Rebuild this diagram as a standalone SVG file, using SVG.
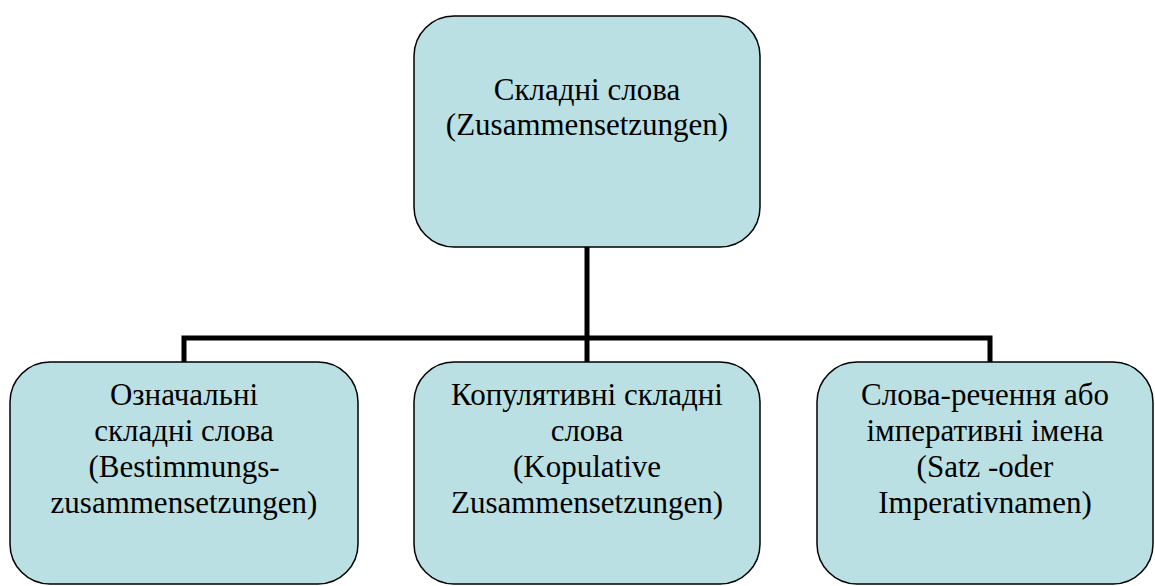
<svg xmlns="http://www.w3.org/2000/svg" width="1155" height="586" viewBox="0 0 1155 586">
<style>
.box{fill:#BAE0E3;stroke:#000;stroke-width:1.5}
.c{fill:none;stroke:#000;stroke-width:5}
</style>
<rect width="1155" height="586" fill="#fff"/>
<g id="connectors">
<path class="c" d="M587 247 V338"/>
<path class="c" d="M184 362 V338 H990 V362"/>
<path class="c" d="M587 338 V362"/>
</g>
<g id="root">
<rect class="box" x="414" y="16" width="346" height="231" rx="40"/>
<text x="587" y="100" font-family="Liberation Serif" font-size="31" text-anchor="middle" style="font-family:'Liberation Serif',serif;font-size:31px">Складні слова</text>
<text x="587" y="135" font-family="Liberation Serif" font-size="31" text-anchor="middle" style="font-family:'Liberation Serif',serif;font-size:31px">(Zusammensetzungen)</text>
</g>
<g id="n1">
<rect class="box" x="10" y="362" width="348" height="222" rx="40"/>
<text x="184" y="405" font-family="Liberation Serif" font-size="31" text-anchor="middle" style="font-family:'Liberation Serif',serif;font-size:31px">Означальні</text>
<text x="184" y="441" font-family="Liberation Serif" font-size="31" text-anchor="middle" style="font-family:'Liberation Serif',serif;font-size:31px">складні слова</text>
<text x="184" y="477" font-family="Liberation Serif" font-size="31" text-anchor="middle" style="font-family:'Liberation Serif',serif;font-size:31px">(Bestimmungs-</text>
<text x="184" y="513" font-family="Liberation Serif" font-size="31" text-anchor="middle" style="font-family:'Liberation Serif',serif;font-size:31px">zusammensetzungen)</text>
</g>
<g id="n2">
<rect class="box" x="414" y="362" width="346" height="222" rx="40"/>
<text x="587" y="405" font-family="Liberation Serif" font-size="31" text-anchor="middle" style="font-family:'Liberation Serif',serif;font-size:31px">Копулятивні складні</text>
<text x="587" y="441" font-family="Liberation Serif" font-size="31" text-anchor="middle" style="font-family:'Liberation Serif',serif;font-size:31px">слова</text>
<text x="587" y="477" font-family="Liberation Serif" font-size="31" text-anchor="middle" style="font-family:'Liberation Serif',serif;font-size:31px">(Kopulative</text>
<text x="587" y="513" font-family="Liberation Serif" font-size="31" text-anchor="middle" style="font-family:'Liberation Serif',serif;font-size:31px">Zusammensetzungen)</text>
</g>
<g id="n3">
<rect class="box" x="817" y="362" width="336" height="222" rx="40"/>
<text x="985" y="405" font-family="Liberation Serif" font-size="31" text-anchor="middle" style="font-family:'Liberation Serif',serif;font-size:31px">Слова-речення або</text>
<text x="985" y="441" font-family="Liberation Serif" font-size="31" text-anchor="middle" style="font-family:'Liberation Serif',serif;font-size:31px">імперативні імена</text>
<text x="985" y="477" font-family="Liberation Serif" font-size="31" text-anchor="middle" style="font-family:'Liberation Serif',serif;font-size:31px">(Satz -oder</text>
<text x="985" y="513" font-family="Liberation Serif" font-size="31" text-anchor="middle" style="font-family:'Liberation Serif',serif;font-size:31px">Imperativnamen)</text>
</g>
</svg>
